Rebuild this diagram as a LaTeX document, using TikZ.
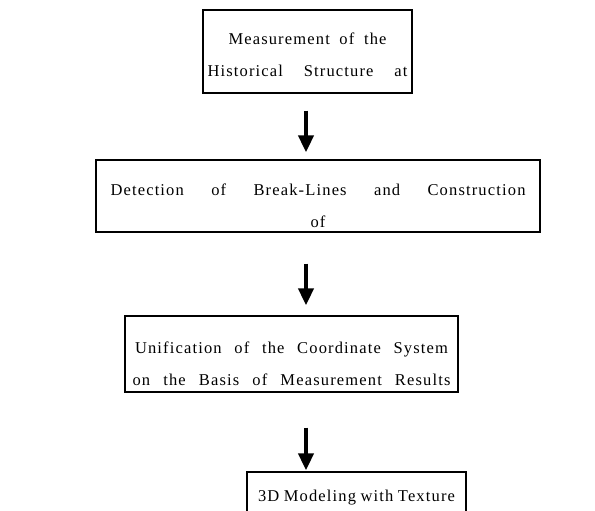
\documentclass[tikz,border=0pt]{standalone}
\usepackage{fontspec}
\setmainfont{Liberation Serif}[LetterSpace=7]
\usetikzlibrary{arrows.meta}
\newcommand{\jline}[2]{\makebox[#1][s]{#2}}
\begin{document}
\begin{tikzpicture}[x=1pt,y=-1pt]
\tikzstyle{box}=[draw,line width=1.3pt,inner sep=0pt]
\tikzstyle{txt}=[align=center,inner sep=0pt,font=\fontsize{16.5}{32}\selectfont]
\tikzstyle{flow}=[line width=4pt,-{Triangle[width=15pt,length=17pt]}]
\useasboundingbox (0,0) rectangle (595,511);
\node[box,minimum width=209pt,minimum height=83pt] (meas) at (307.5,51.5) {};
\node[box,minimum width=444pt,minimum height=72pt] (break) at (318,196) {};
\node[box,minimum width=333pt,minimum height=76pt] (unify) at (291.5,354) {};
\node[box,minimum width=219pt,minimum height=60pt] (model) at (356.5,502) {};
\node[txt] (meastxt) at (307.5,55) {\jline{158pt}{Measurement of the}\\\jline{200pt}{Historical Structure at}};
\node[txt] (breaktxt) at (318,206) {\jline{415pt}{Detection of Break-Lines and Construction}\\of};
\node[txt] (unifytxt) at (291.5,364) {\jline{313pt}{Unification of the Coordinate System}\\\jline{318pt}{on the Basis of Measurement Results}};
\node[txt] (modeltxt) at (356.5,498) {\jline{197pt}{3D Modeling with Texture}};
\draw[flow] ([shift={(-1.5,17)}]meas.south) -- ([shift={(-12,-7)}]break.north);
\draw[flow] ([shift={(-12,31)}]break.south) -- ([shift={(14.5,-10)}]unify.north);
\draw[flow] ([shift={(14.5,35)}]unify.south) -- ([shift={(-50.5,-1)}]model.north);
\end{tikzpicture}
\end{document}
